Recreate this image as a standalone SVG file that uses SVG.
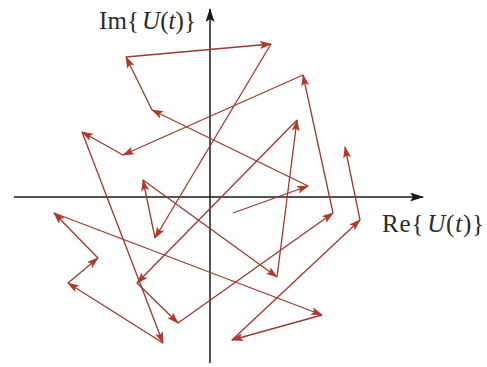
<svg xmlns="http://www.w3.org/2000/svg" width="487" height="367" viewBox="0 0 487 367">
<style>
.ax{stroke:#1a1a1a;stroke-width:1.5;fill:none}
.v{stroke:#9a3a2e;stroke-width:1.3;fill:none;marker-end:url(#ra)}
.lbl{font-family:"Liberation Serif","Times New Roman",serif;font-size:25px;fill:#2a2a2a}
</style>
<defs>
<marker id="ra" markerUnits="userSpaceOnUse" markerWidth="12" markerHeight="8" refX="11" refY="4" orient="auto" viewBox="0 0 12 8">
<path d="M0,0 L12,4 L0,8 L2.5,4 Z" fill="#b3382a"/>
</marker>
<marker id="ka" markerUnits="userSpaceOnUse" markerWidth="14" markerHeight="9" refX="13" refY="4.5" orient="auto" viewBox="0 0 14 9">
<path d="M0,0 L14,4.5 L0,9 L3,4.5 Z" fill="#1a1a1a"/>
</marker>
</defs>
<rect width="487" height="367" fill="#ffffff"/>
<g id="axes">
<line class="ax" x1="14" y1="197" x2="423" y2="197" marker-end="url(#ka)"/>
<line class="ax" x1="210" y1="363" x2="210" y2="9" marker-end="url(#ka)"/>
</g>
<g id="labels">
<text class="lbl" x="99" y="29" textLength="97" lengthAdjust="spacing">Im{<tspan font-style="italic" dx="3">U</tspan>(<tspan font-style="italic">t</tspan>)}</text>
<text class="lbl" x="382" y="232" textLength="102" lengthAdjust="spacing">Re{<tspan font-style="italic" dx="3">U</tspan>(<tspan font-style="italic">t</tspan>)}</text>
</g>
<g id="connectors">
<path class="v" d="M233,213 L308,186"/>
<path class="v" d="M308,186 L152,110"/>
<path class="v" d="M152,110 L126,57"/>
<path class="v" d="M126,57 L271,44"/>
<path class="v" d="M271,44 L155,238"/>
<path class="v" d="M155,238 L143,180"/>
<path class="v" d="M143,180 L277,277"/>
<path class="v" d="M277,277 L297,120"/>
<path class="v" d="M297,120 L137,283"/>
<path class="v" d="M137,283 L178,323"/>
<path class="v" d="M178,323 L333,213"/>
<path class="v" d="M333,213 L303,75"/>
<path class="v" d="M303,75 L123,155"/>
<path class="v" d="M123,155 L82,132"/>
<path class="v" d="M82,132 L163,343"/>
<path class="v" d="M163,343 L68,283"/>
<path class="v" d="M68,283 L98,258"/>
<path class="v" d="M98,258 L54,213"/>
<path class="v" d="M54,213 L322,315"/>
<path class="v" d="M322,315 L232,340"/>
<path class="v" d="M232,340 L360,220"/>
<path class="v" d="M360,220 L345,147"/>
</g>
</svg>
